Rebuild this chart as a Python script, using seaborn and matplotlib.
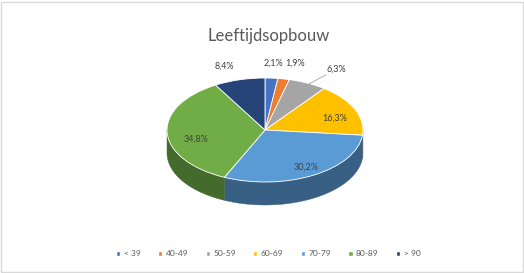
import numpy as np
import matplotlib
matplotlib.use("Agg")
import matplotlib.pyplot as plt
from matplotlib.patches import Polygon, Rectangle
import seaborn as sns

categories = ["< 39", "40-49", "50-59", "60-69", "70-79", "80-89", "> 90"]
values = [2.1, 1.9, 6.3, 16.3, 30.2, 34.8, 8.4]
labels = ["2,1%", "1,9%", "6,3%", "16,3%", "30,2%", "34,8%", "8,4%"]
colors = ["#4472C4", "#ED7D31", "#A5A5A5", "#FFC000", "#5B9BD5", "#70AD47", "#264478"]

sns.set_theme(style="white")
plt.rcParams["font.family"] = ["Lato", "DejaVu Sans"]
palette = sns.color_palette(colors)

W, H = 524, 273
fig = plt.figure(figsize=(W / 100, H / 100), dpi=100)
fig.patch.set_facecolor("white")
ax = fig.add_axes([0, 0, 1, 1])

# pixel geometry of the ellipse
cx, cy = 265, 130
rx, ry = 98, 52
depth = 23

wedges, _ = ax.pie(values, colors=palette, startangle=90, counterclock=False,
                   radius=1, center=(0, 0),
                   wedgeprops=dict(edgecolor="white", linewidth=0.6, zorder=3))
ax.set_aspect("auto")
ax.set_xlim(-cx / rx, (W - cx) / rx)
ax.set_ylim(-(H - cy) / ry, cy / ry)
d = depth / ry

# side walls for the front half
total = sum(values)
cum = np.cumsum([0] + values) / total
for i, col in enumerate(palette):
    t_hi = 90 - 360 * cum[i]
    t_lo = 90 - 360 * cum[i + 1]
    for shift in (0, -360, 360):
        a, b = t_lo + shift, t_hi + shift
        lo, hi = max(a, -180), min(b, 0)
        if hi > lo:
            th = np.radians(np.linspace(lo, hi, 60))
            top = np.column_stack([np.cos(th), np.sin(th)])
            bot = top[::-1] - np.array([0, d])
            dark = tuple(np.array(col) * 0.62)
            ax.add_patch(Polygon(np.vstack([top, bot]), closed=True,
                                 facecolor=dark, edgecolor=dark, lw=0.3, zorder=2))

# data labels
mid = [(cum[i] + cum[i + 1]) / 2 for i in range(len(values))]
lab_r = [1.28, 1.30, 1.30, 0.72, 0.68, 0.78, 1.28]
lab_dx = [0, 6, 16, 5, 8, 7, -8]
lab_dy = [0, 0, 0, -3, -7, -7, 0]
for i, txt in enumerate(labels):
    ang = np.radians(90 - 360 * mid[i])
    x, y = lab_r[i] * np.cos(ang), lab_r[i] * np.sin(ang)
    ax.annotate(txt, (x, y), xytext=(lab_dx[i], lab_dy[i]), textcoords="offset pixels",
                ha="center", va="center", fontsize=6.5, color="#404040", zorder=5)
# leader line for 6,3%
ang = np.radians(90 - 360 * mid[2])
ax.plot([0.93 * np.cos(ang), 1.2 * np.cos(ang) + 0.1],
        [0.93 * np.sin(ang), 1.2 * np.sin(ang) - 0.02],
        color="#A6A6A6", lw=0.6, zorder=4)

fig.text(0.512, 1 - 36 / H, "Leeftijdsopbouw", ha="center", va="center",
         fontsize=12, color="#595959")

handles = [Rectangle((0, 0), 1, 1, facecolor=c) for c in palette]
fig.legend(handles, categories, loc="center", bbox_to_anchor=(0.512, 1 - 254 / H),
           ncol=7, frameon=False, fontsize=6, labelcolor="#595959",
           handlelength=0.5, handleheight=0.5, handletextpad=0.4, columnspacing=2.1)

fig.add_artist(Rectangle((0.002, 0.004), 0.996, 0.99, transform=fig.transFigure,
                         fill=False, edgecolor="#D9D9D9", lw=1))
fig.savefig("out.png", dpi=100, facecolor="white")
